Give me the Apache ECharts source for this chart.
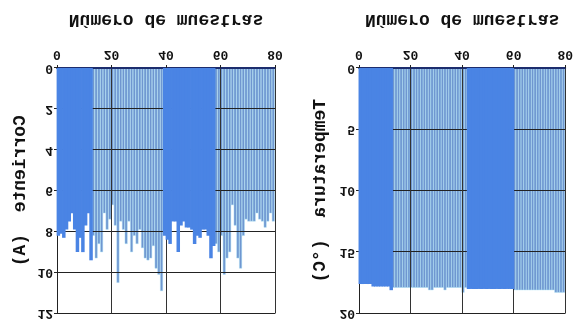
<!DOCTYPE html>
<html>
<head>
<meta charset="utf-8">
<script src="https://cdn.jsdelivr.net/npm/echarts@6/dist/echarts.min.js"></script>
<style>
  html, body { margin: 0; padding: 0; background: #fff; }
  /* the reference picture is mirrored upside down */
  #chart { width: 576px; height: 320px; transform: scaleY(-1); }
</style>
</head>
<body>
<div id="chart"></div>
<script>
// samples 0..79
const corriente = [8.2, 8.1, 8.3, 7.9, 7.5, 7.1, 7.9, 9.0, 8.3, 9.0,
  7.7, 7.1, 9.4, 8.2, 9.3, 8.6, 9.0, 7.1, 7.9, 7.4,
  6.7, 7.7, 10.5, 7.5, 7.9, 8.6, 7.5, 9.0, 8.2, 8.6,
  7.9, 8.8, 9.3, 9.4, 9.3, 8.7, 9.8, 10.1, 10.9, 8.2,
  8.4, 8.6, 7.5, 7.5, 9.0, 7.7, 7.5, 7.8, 7.8, 7.9,
  8.6, 8.2, 8.3, 7.9, 7.9, 8.2, 9.3, 8.7, 8.6, 9.0,
  8.2, 10.1, 9.3, 9.0, 6.7, 7.7, 9.3, 9.8, 8.2, 7.4,
  7.5, 7.5, 7.5, 7.1, 7.4, 7.5, 7.8, 7.5, 7.1, 7.5];

const temperatura = [17.6, 17.6, 17.6, 17.6, 17.6, 17.8, 17.8, 17.8, 17.8, 17.8,
  17.8, 17.8, 18.1, 17.9, 17.9, 17.9, 17.9, 17.9, 17.9, 17.9,
  17.9, 17.9, 17.9, 17.9, 17.9, 17.9, 17.9, 18.1, 18.1, 17.9,
  17.9, 17.9, 17.9, 18.1, 17.9, 17.9, 17.9, 17.9, 17.9, 17.9,
  18.3, 17.9, 18.0, 18.0, 18.0, 18.0, 18.0, 18.0, 18.0, 18.0,
  18.0, 18.0, 18.0, 18.0, 18.0, 18.0, 18.0, 18.0, 18.0, 18.0,
  18.1, 18.1, 18.1, 18.1, 18.1, 18.1, 18.1, 18.1, 18.1, 18.1,
  18.1, 18.1, 18.1, 18.1, 18.1, 18.1, 18.3, 18.3, 18.3, 18.3];

// sample ranges drawn as solid blocks, [first, last]
const bloquesCorriente = [[0, 12], [39, 57]];
const bloquesTemperatura = [[0, 12], [42, 59]];

const xTicks = [0, 80, 20];          // min, max, interval
const yTicksCorriente = [0, 12, 2];
const yTicksTemperatura = [0, 20, 5];

const xName = 'Número de muestras';
const yNames = ['Corriente  (A)', 'Temperatura  (°C)'];

const FONT = 'Liberation Mono';

function inBlock(i, bloques) {
  return bloques.some(b => i >= b[0] && i <= b[1]);
}

function splitSeries(values, bloques, k) {
  const solid = [], striped = [];
  values.forEach((v, i) => {
    (inBlock(i, bloques) ? solid : striped).push([i + 0.5, v]);
  });
  return [
    {
      type: 'bar', xAxisIndex: k, yAxisIndex: k, z: 1,
      barWidth: 2.8, barGap: '-100%',
      itemStyle: { color: '#6f96d0', borderColor: '#a9e3f5', borderWidth: 0.45 },
      data: striped
    },
    {
      type: 'bar', xAxisIndex: k, yAxisIndex: k, z: 3,
      barWidth: 3.5, barGap: '-100%',
      itemStyle: { color: '#4a84e4' },
      data: solid
    }
  ];
}

function xAxis(k) {
  return {
    gridIndex: k, type: 'value', z: 2,
    min: xTicks[0], max: xTicks[1], interval: xTicks[2],
    name: xName, nameLocation: 'middle', nameGap: 39,
    nameTextStyle: { fontFamily: FONT, fontSize: 18, fontWeight: 'bold', color: '#111' },
    axisLine: { onZero: false, lineStyle: { color: '#1c2d6e', width: 2 } },
    axisTick: { length: 3, lineStyle: { color: '#222' } },
    axisLabel: { margin: 7, fontFamily: FONT, fontSize: 13, fontWeight: 'bold', color: '#111' },
    splitLine: { show: true, lineStyle: { color: '#333', width: 1 } }
  };
}

function yAxis(k, t) {
  return {
    gridIndex: k, type: 'value', z: 2,
    min: t[0], max: t[1], interval: t[2],
    name: yNames[k], nameLocation: 'middle', nameGap: k === 0 ? 28 : 30,
    nameTextStyle: { fontFamily: FONT, fontSize: 18, fontWeight: 'bold', color: '#111' },
    axisLine: { show: true, onZero: false, lineStyle: { color: '#222', width: 1 } },
    axisTick: { show: true, length: 3, lineStyle: { color: '#222' } },
    axisLabel: { margin: 4, fontFamily: FONT, fontSize: 13, fontWeight: 'bold', color: '#111' },
    splitLine: { show: true, lineStyle: { color: '#222', width: 1 } }
  };
}

const chart = echarts.init(document.getElementById('chart'), null, { renderer: 'canvas' });

chart.setOption({
  animation: false,
  backgroundColor: '#fff',
  grid: [
    { left: 57, top: 5, width: 218, height: 247 },
    { left: 359, top: 6, width: 216, height: 246 }
  ],
  xAxis: [xAxis(0), xAxis(1)],
  yAxis: [yAxis(0, yTicksCorriente), yAxis(1, yTicksTemperatura)],
  series: [
    ...splitSeries(corriente, bloquesCorriente, 0),
    ...splitSeries(temperatura, bloquesTemperatura, 1)
  ]
});
</script>
</body>
</html>
